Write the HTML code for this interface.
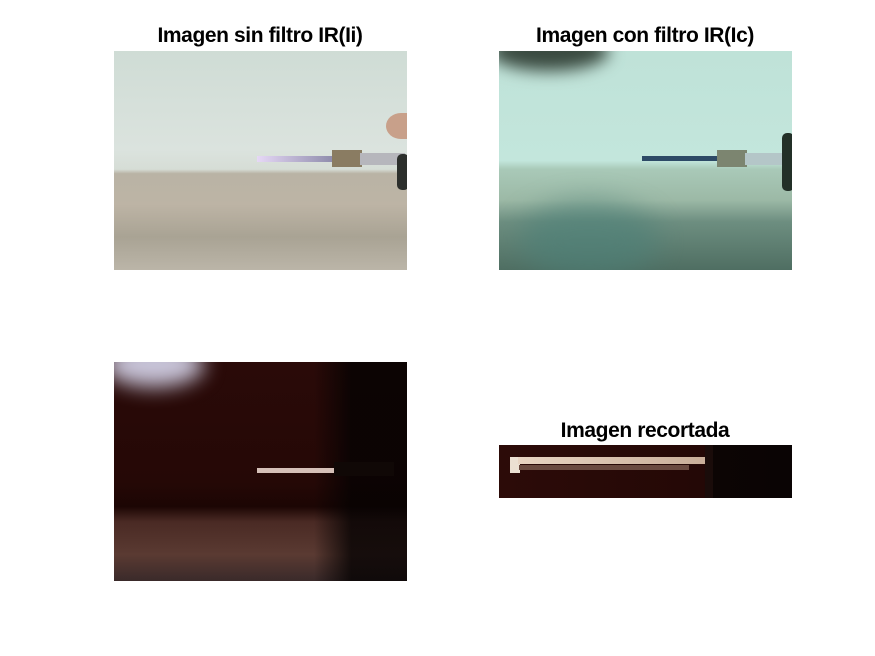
<!DOCTYPE html>
<html><head><meta charset="utf-8"><style>
body{margin:0;background:#fff;width:875px;height:656px;position:relative;overflow:hidden;font-family:"Liberation Sans",Arial,sans-serif}
.t{position:absolute;font-weight:bold;font-size:21px;letter-spacing:-0.4px;color:#000;text-align:center;width:320px}
.p{position:absolute;overflow:hidden}
.a{position:absolute}
</style></head><body>
<div class="t" style="left:100px;top:24px">Imagen sin filtro IR(Ii)</div>
<div class="t" style="left:485px;top:24px">Imagen con filtro IR(Ic)</div>
<div class="t" style="left:485px;top:419px">Imagen recortada</div>

<div class="p" style="left:114px;top:51px;width:293px;height:219px;background:linear-gradient(180deg,#cfdcd5 0%,#dbe3de 45%,#d6ddd6 54%,#b9b3a5 56%,#bdb4a5 70%,#a9a394 85%,#bbb5a8 100%)">
 <div class="a" style="left:143px;top:105px;width:80px;height:6px;background:linear-gradient(90deg,#e6d8f6,#8a88a8)"></div>
 <div class="a" style="left:218px;top:99px;width:30px;height:17px;background:#8a7c62"></div>
 <div class="a" style="left:246px;top:102px;width:45px;height:12px;background:#b6b6bc"></div>
 <div class="a" style="left:283px;top:103px;width:12px;height:36px;background:#2c2f2c;border-radius:5px"></div>
 <div class="a" style="left:272px;top:62px;width:30px;height:26px;background:#c8a08a;border-radius:50% 0 0 50%"></div>
</div>

<div class="p" style="left:499px;top:51px;width:293px;height:219px;background:linear-gradient(180deg,#bfe2d8 0%,#c3e6dc 50%,#a9c9b8 54%,#9cb9a6 68%,#6d8e80 78%,#4f6e62 100%)">
 <div class="a" style="left:-10px;top:-20px;width:120px;height:40px;background:#3a4a40;border-radius:50%;filter:blur(8px)"></div>
 <div class="a" style="left:143px;top:105px;width:80px;height:5px;background:#2d4a66"></div>
 <div class="a" style="left:218px;top:99px;width:30px;height:17px;background:#7c8570"></div>
 <div class="a" style="left:246px;top:102px;width:45px;height:12px;background:#b4c6c8"></div>
 <div class="a" style="left:283px;top:82px;width:12px;height:58px;background:#233028;border-radius:5px"></div>
 <div class="a" style="left:20px;top:150px;width:140px;height:80px;background:#4c8078;border-radius:50%;filter:blur(14px);opacity:.6"></div>
</div>

<div class="p" style="left:114px;top:362px;width:293px;height:219px;background:linear-gradient(180deg,#2a0a08 0%,#250806 55%,#1c0604 66%,#4a2a24 73%,#5a3a32 88%,#3a2a2a 100%)">
 <div class="a" style="left:-10px;top:-20px;width:100px;height:45px;background:#c8c4d8;border-radius:50%;filter:blur(10px)"></div>
 <div class="a" style="left:200px;top:0;width:93px;height:219px;background:linear-gradient(90deg,rgba(0,0,0,0),#050202 40%);opacity:.8"></div>
 <div class="a" style="left:143px;top:106px;width:78px;height:5px;background:#d6c0b8"></div>
 <div class="a" style="left:220px;top:100px;width:60px;height:14px;background:#100806"></div>
</div>

<div class="p" style="left:499px;top:445px;width:293px;height:53px;background:linear-gradient(90deg,#2c0b08 0%,#240806 70%,#0c0504 72%,#0a0404 100%)">
 <div class="a" style="left:11px;top:12px;width:10px;height:16px;background:#ece0d2"></div>
 <div class="a" style="left:19px;top:12px;width:190px;height:7px;background:linear-gradient(90deg,#e8d4c2,#c8ad98)"></div>
 <div class="a" style="left:20px;top:20px;width:170px;height:5px;background:#6a4a40"></div>
 <div class="a" style="left:206px;top:0;width:8px;height:53px;background:#1a0c0a"></div>
</div>
</body></html>
